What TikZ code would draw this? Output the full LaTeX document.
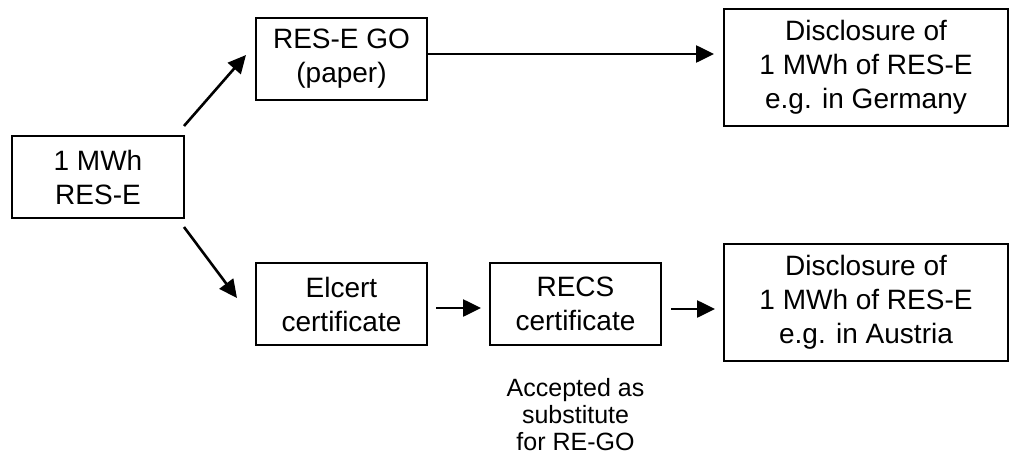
\documentclass[tikz,border=0pt]{standalone}
\usepackage{fontspec}
\setmainfont{Liberation Sans}
\usetikzlibrary{arrows.meta}
\begin{document}
\begin{tikzpicture}[x=1pt, y=-1pt,
   box/.style={draw, line width=2pt, align=center, inner sep=0pt, font=\fontsize{28}{34}\selectfont},
   small/.style={box, minimum width=171pt, minimum height=82pt},
   wide/.style={box, minimum width=284pt, minimum height=117pt},
   arr/.style={line width=2.6pt, -{Triangle[length=18pt, width=17pt]}}]
   \useasboundingbox (0,0) rectangle (1010,455);
   \node (src) [small, minimum width=172pt] at (98,177) {1 MWh\\RES-E};
   \node (go) [small] at (341.5,59) {RES-E GO\\(paper)};
   \node (de) [wide] at (866,67.5) {Disclosure of\\1 MWh of RES-E\\e.g. in Germany};
   \node (elcert) [small] at (341.5,304) {Elcert\\certificate};
   \node (recs) [small] at (575.5,304) {RECS\\certificate};
   \node (at) [wide] at (866,302.5) {Disclosure of\\1 MWh of RES-E\\e.g. in Austria};
   \node (note) [align=center, font=\fontsize{25}{27}\selectfont] at (575.5,415) {Accepted as\\substitute\\for RE-GO};
   \draw [arr] ([xshift=-1pt, yshift=9pt]src.north east) -- ([xshift=-9pt, yshift=4pt]go.west);
   \draw [arr] ([xshift=-1pt, yshift=-8pt]src.south east) -- ([xshift=-18pt, yshift=6pt]elcert.west);
   \draw [arr, shorten >=9pt] ([yshift=5pt]go.east) -- ([yshift=5pt]go.east -| de.west);
   \draw [arr, shorten <=8pt, shorten >=8pt] ([yshift=-4pt]elcert.east) -- ([yshift=-4pt]elcert.east -| recs.west);
   \draw [arr, shorten <=9pt, shorten >=8pt] ([yshift=-5pt]recs.east) -- ([yshift=-5pt]recs.east -| at.west);
\end{tikzpicture}
\end{document}
